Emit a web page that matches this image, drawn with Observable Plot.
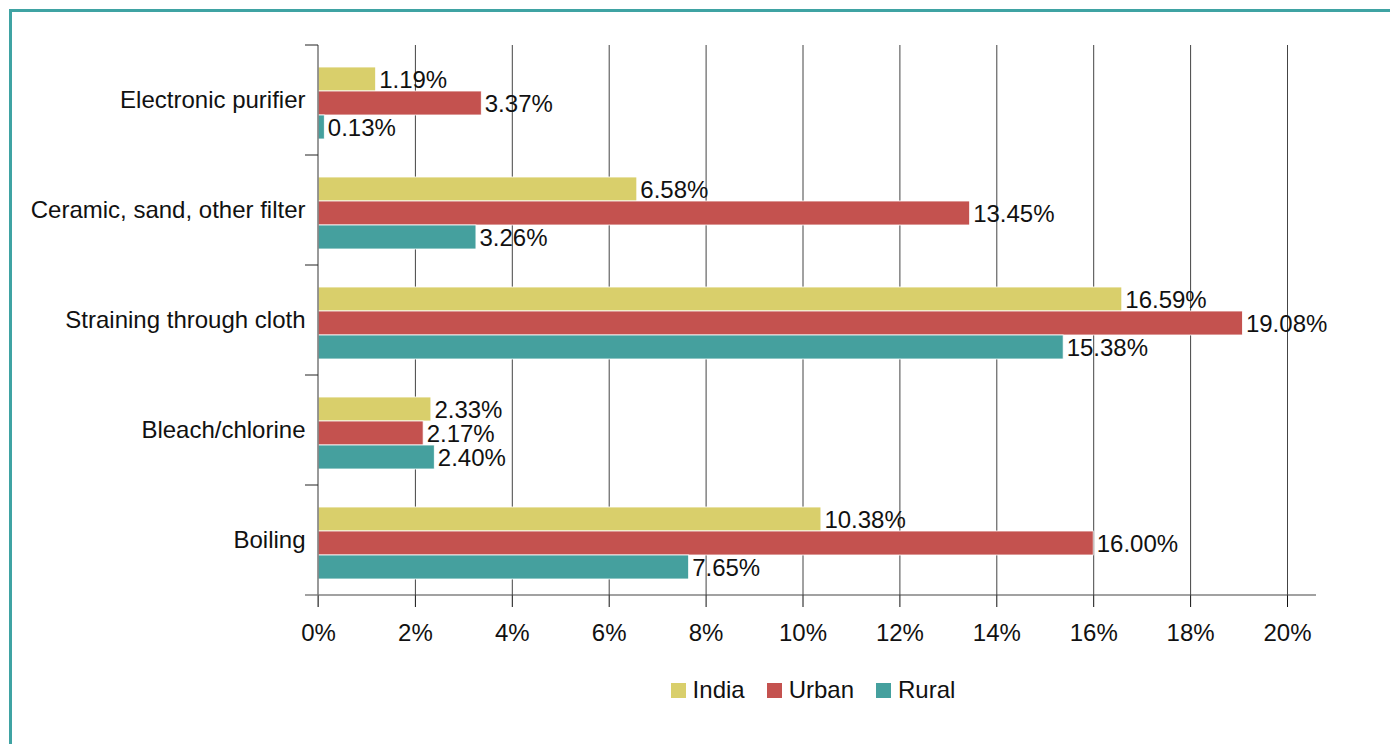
<!DOCTYPE html>
<html><head><meta charset="utf-8">
<script src="https://cdn.jsdelivr.net/npm/d3@7"></script>
<script src="https://cdn.jsdelivr.net/npm/@observablehq/plot@0.6"></script>
<style>
body{margin:0;background:#fff;font-family:"Liberation Sans",Arial,sans-serif;color:#111;}
#frame{position:absolute;left:9px;top:9px;width:1500px;height:900px;border-left:3px solid #3fa3a3;border-top:3px solid #3fa3a3;}
#chart{position:absolute;left:0;top:0;}
#legend{position:absolute;left:0;top:676px;width:1390px;display:flex;justify-content:center;align-items:center;padding-left:236px;box-sizing:border-box;font-size:24px;line-height:28px;}
#legend .item{display:flex;align-items:center;margin:0 11px;}
#legend .sw{width:15px;height:15px;margin-right:7px;}
</style></head><body>
<div id="frame"></div><div id="chart"></div><div id="legend"></div>
<script>
const categories = ["Electronic purifier","Ceramic, sand, other filter","Straining through cloth","Bleach/chlorine","Boiling"];
const seriesNames = ["India","Urban","Rural"];
const indiaValues = [1.19, 6.58, 16.59, 2.33, 10.38];
const urbanValues = [3.37, 13.45, 19.08, 2.17, 16.00];
const ruralValues = [0.13, 3.26, 15.38, 2.40, 7.65];
const xTicks = [0, 2, 4, 6, 8, 10, 12, 14, 16, 18, 20];
const seriesColors = ["#d9cf6b", "#c4524f", "#45a09e"];

const valuesBySeries = [indiaValues, urbanValues, ruralValues];
const rows = [];
categories.forEach((c, i) => {
  seriesNames.forEach((s, j) => {
    rows.push({category: c, series: s, value: valuesBySeries[j][i]});
  });
});

const plot = Plot.plot({
  width: 1390,
  height: 650,
  marginLeft: 318,
  marginRight: 103,
  marginTop: 45,
  marginBottom: 55,
  style: {fontFamily: "'Liberation Sans', Arial, sans-serif", fontSize: "24px", color: "#111", background: "transparent", overflow: "visible"},
  facet: {data: rows, y: "category", marginRight: 0},
  fy: {domain: categories, padding: 0, axis: "left", tickSize: 0, tickPadding: 13, label: null},
  y: {domain: seriesNames, axis: null, padding: 0, insetTop: 21, insetBottom: 16},
  x: {domain: [0, 20], ticks: xTicks, tickFormat: d => d + "%", tickSize: 12, tickPadding: 16, label: null, grid: false},
  color: {domain: seriesNames, range: seriesColors},
  marks: [
    Plot.ruleX(xTicks.slice(1), {stroke: "#444", strokeWidth: 1, strokeOpacity: 1}),
    Plot.barX(rows, {y: "series", x: "value", fill: "series", stroke: "white", strokeWidth: 0.8}),
    Plot.text(rows, {y: "series", x: "value", text: d => d.value.toFixed(2) + "%", textAnchor: "start", dx: 3, dy: 1, fill: "#111", fontSize: 24})
  ]
});
document.getElementById("chart").appendChild(plot);

// axis lines and boundary ticks drawn from the library's scales
const xs = plot.scale("x");
const fys = plot.scale("fy");
const svg = d3.select(plot.tagName.toLowerCase() === "svg" ? plot : plot.querySelector("svg"));
const xZero = xs.apply(0), xMax = xs.apply(20);
const yTop = fys.apply(categories[0]);
const yBottom = fys.apply(categories[categories.length - 1]) + fys.bandwidth;
const g = svg.append("g");
g.append("line").attr("x1", xZero - 13).attr("x2", xMax + 29).attr("y1", yBottom).attr("y2", yBottom)
  .attr("stroke", "#444").attr("stroke-width", 1.2);
g.append("line").attr("x1", xZero).attr("x2", xZero).attr("y1", yTop).attr("y2", yBottom + 12)
  .attr("stroke", "#777").attr("stroke-width", 1.5);
categories.forEach(c => {
  const y = fys.apply(c);
  g.append("line").attr("x1", xZero - 13).attr("x2", xZero).attr("y1", y).attr("y2", y)
    .attr("stroke", "#222").attr("stroke-width", 1);
});

const legend = d3.select("#legend");
seriesNames.forEach((s, i) => {
  const it = legend.append("div").attr("class", "item");
  it.append("div").attr("class", "sw").style("background", seriesColors[i]);
  it.append("span").text(s);
});
</script>
</body></html>
